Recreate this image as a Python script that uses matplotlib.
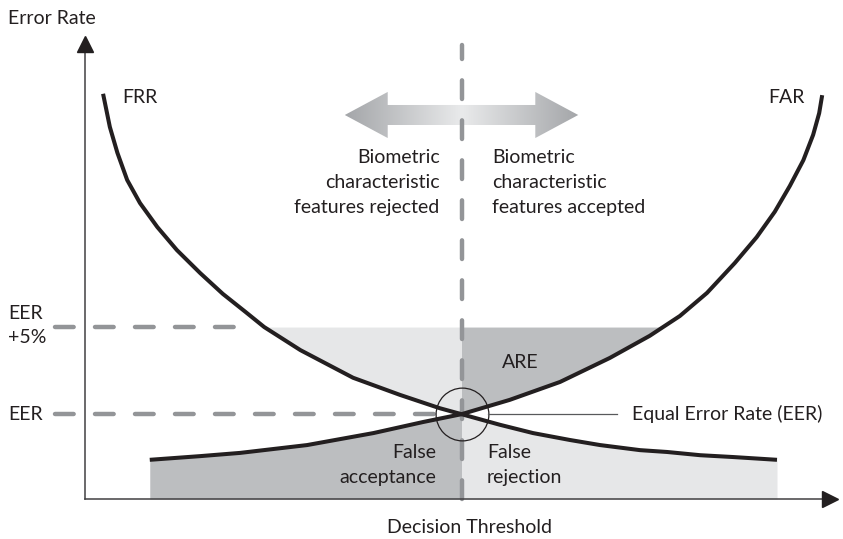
import numpy as np
import matplotlib.pyplot as plt
from matplotlib.patches import Polygon
from matplotlib.colors import LinearSegmentedColormap

# Curve samples (threshold 0-100, error rate 0-100)
frr_x = np.array([2.4, 3.3, 4.3, 5.6, 7.3, 9.6, 12.2, 15.3, 18.3, 21.3, 23.8, 28.6, 35.6,
                  41.8, 47.1, 50, 55.1, 59.5, 64.4, 68.4, 73.7, 77.3, 81.7, 86.1, 91.9])
frr_y = np.array([87.9, 80.7, 75.1, 69.2, 64.2, 59.0, 54.0, 49.0, 44.5, 40.6, 37.3, 32.3, 26.3,
                  22.6, 19.7, 18.4, 16.1, 14.3, 12.8, 11.7, 10.6, 10.2, 9.5, 9.1, 8.5])
far_x = np.array([8.6, 15.3, 20.6, 29.5, 38.3, 44.9, 50, 56.4, 63.1, 69.7, 75.0, 79.0, 82.6,
                  86.3, 89.2, 91.6, 93.6, 95.4, 96.7, 97.5, 97.9])
far_y = np.array([8.5, 9.3, 10.0, 11.7, 14.3, 16.7, 18.4, 21.5, 25.4, 30.6, 35.4, 39.7, 44.7,
                  51.2, 56.8, 62.3, 67.9, 73.5, 79.0, 83.7, 87.6])
threshold = 50
eer = 18.4
eer_plus5 = 37.3

plt.rcParams['font.family'] = ['Lato', 'DejaVu Sans']
fs = 14

light = '#e6e7e8'
dark = '#bcbec0'
ink = '#231f20'
dash_col = '#939598'

fig = plt.figure(figsize=(8.43, 5.39), dpi=100)
ax = fig.add_axes([85 / 843, 40 / 539, 753 / 843, 461 / 539])

# shaded areas
m = far_x <= threshold
ax.fill_between(far_x[m], 0, far_y[m], color=dark, lw=0)
m = frr_x >= threshold
ax.fill_between(frr_x[m], 0, frr_y[m], color=light, lw=0)
m = frr_x <= threshold
ax.fill_between(frr_x[m], frr_y[m], eer_plus5, where=frr_y[m] <= eer_plus5,
                interpolate=True, color=light, lw=0)
m = far_x >= threshold
ax.fill_between(far_x[m], far_y[m], eer_plus5, where=far_y[m] <= eer_plus5,
                interpolate=True, color=dark, lw=0)

# double arrow with gradient
cx, cy, L, hl, sh, hh = threshold, 83.3, 15.5, 5.7, 2.17, 5.0
verts = [(cx - L, cy), (cx - L + hl, cy + hh), (cx - L + hl, cy + sh), (cx + L - hl, cy + sh),
         (cx + L - hl, cy + hh), (cx + L, cy), (cx + L - hl, cy - hh), (cx + L - hl, cy - sh),
         (cx - L + hl, cy - sh), (cx - L + hl, cy - hh)]
poly = Polygon(verts, closed=True, facecolor='none', edgecolor='none')
ax.add_patch(poly)
grad = 1 - np.abs(np.linspace(-1, 1, 256))
cmap = LinearSegmentedColormap.from_list('g', ['#a4a6a9', '#e9eaeb'])
im = ax.imshow(grad[None, :], cmap=cmap, aspect='auto',
               extent=[cx - L, cx + L, cy - hh, cy + hh], zorder=2)
im.set_clip_path(poly)

# dashed guide lines
dkw = dict(color=dash_col, lw=3.2, dashes=(4.2, 4.8), dash_capstyle='round', clip_on=False, zorder=3)
ax.plot([-4.0, 20.3], [eer_plus5, eer_plus5], **dkw)
ax.plot([-4.0, threshold], [eer, eer], **dkw)
ax.plot([threshold, threshold], [0, 98.5], **dkw)

# curves
ax.plot(frr_x, frr_y, color=ink, lw=2.9, solid_capstyle='butt', zorder=4, clip_on=False)
ax.plot(far_x, far_y, color=ink, lw=2.9, solid_capstyle='butt', zorder=4, clip_on=False)

# EER circle and leader
ax.plot(threshold, eer, 'o', ms=38, mfc='none', mec=ink, mew=0.9, zorder=5)
ax.plot([53.5, 70.7], [eer, eer], color='#58595b', lw=0.9, zorder=5)

# axes with arrow heads
ax.plot([0, 0], [0, 98], color='#414042', lw=1.1, clip_on=False, zorder=5)
ax.plot([0, 98], [0, 0], color='#414042', lw=1.1, clip_on=False, zorder=5)
ax.plot(0, 98.7, '^', ms=11.5, color='#231f20', clip_on=False, zorder=6)
ax.plot(98.9, 0, '>', ms=11.5, color='#231f20', clip_on=False, zorder=6)

tkw = dict(fontsize=fs, color=ink, clip_on=False, va='center')
ax.text(-10.2, 104.3, 'Error Rate', ha='left', **tkw)
ax.text(51.0, -6.1, 'Decision Threshold', ha='center', **tkw)
ax.text(4.9, 87.0, 'FRR', ha='left', **tkw)
ax.text(95.6, 87.0, 'FAR', ha='right', **tkw)
ax.text(47.1, 68.6, 'Biometric\ncharacteristic\nfeatures rejected', ha='right',
        linespacing=1.58, **tkw)
ax.text(54.05, 68.6, 'Biometric\ncharacteristic\nfeatures accepted', ha='left',
        linespacing=1.58, **tkw)
ax.text(-10.2, 37.6, 'EER\n+5%', ha='left', linespacing=1.52, **tkw)
ax.text(-10.2, eer, 'EER', ha='left', **tkw)
ax.text(57.8, 29.7, 'ARE', ha='center', **tkw)
ax.text(46.7, 7.4, 'False\nacceptance', ha='right', linespacing=1.55, **tkw)
ax.text(53.4, 7.4, 'False\nrejection', ha='left', linespacing=1.55, **tkw)
ax.text(72.6, eer, 'Equal Error Rate (EER)', ha='left', **tkw)

ax.set_xlim(0, 100)
ax.set_ylim(0, 100)
ax.axis('off')

plt.savefig('out.png', dpi=100)
